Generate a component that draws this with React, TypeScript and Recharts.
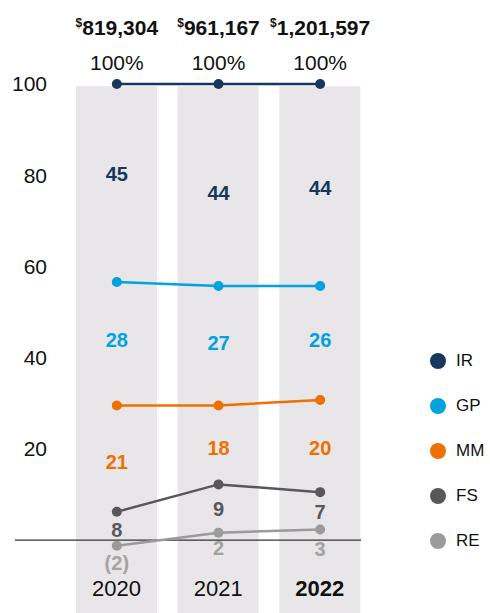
import React from 'react';
import { ComposedChart, Bar, Line, XAxis, YAxis, ReferenceLine, LabelList } from 'recharts';

// categories and totals
const years = ['2020', '2021', '2022'];
const totals = ['819,304', '961,167', '1,201,597'];
const totalShare = ['100%', '100%', '100%'];

// share of each segment (%), as printed
const irShare = [45, 44, 44];
const gpShare = [28, 27, 26];
const mmShare = [21, 18, 20];
const fsShare = [8, 9, 7];
const reShare = [-2, 2, 3];

// cumulative line levels as drawn
const irLine = [100, 100, 100];
const gpLine = [56.6, 55.7, 55.7];
const mmLine = [29.5, 29.5, 30.7];
const fsLine = [6.2, 12.2, 10.5];
const reLine = [-1.25, 1.6, 2.3];

// where each share label sits (chart units)
const irLabAt = [80.3, 76.1, 77.2];
const gpLabAt = [43.9, 43.3, 43.9];
const mmLabAt = [17.2, 20.1, 20.1];
const fsLabAt = [2.2, 6.9, 6.2];
const reLabAt = [-5.1, -1.75, -1.9];

const yTicks = [20, 40, 60, 80, 100];
const yMin = -16;

const FONT = '"Liberation Sans", Arial, sans-serif';

const series = [
  { name: 'IR', color: '#17375e', line: 'ir', lab: 'irLab', share: 'irShare', text: '#17375e' },
  { name: 'GP', color: '#00a3e0', line: 'gp', lab: 'gpLab', share: 'gpShare', text: '#00a3e0' },
  { name: 'MM', color: '#ed7000', line: 'mm', lab: 'mmLab', share: 'mmShare', text: '#ed7000' },
  { name: 'FS', color: '#58585b', line: 'fs', lab: 'fsLab', share: 'fsShare', text: '#58585b' },
  { name: 'RE', color: '#9b9b9b', line: 're', lab: 'reLab', share: 'reShare', text: '#a3a3a3' },
];

const data = years.map((year, i) => ({
  year,
  total: totals[i],
  pct: totalShare[i],
  band: [yMin, 99.5],
  ir: irLine[i], gp: gpLine[i], mm: mmLine[i], fs: fsLine[i], re: reLine[i],
  irLab: irLabAt[i], gpLab: gpLabAt[i], mmLab: mmLabAt[i], fsLab: fsLabAt[i], reLab: reLabAt[i],
  irShare: irShare[i], gpShare: gpShare[i], mmShare: mmShare[i], fsShare: fsShare[i], reShare: reShare[i],
}));

const ShareLabel = (color: string) => (props: any) => {
  const { x, y, value } = props;
  const txt = value < 0 ? `(${Math.abs(value)})` : `${value}`;
  return (
    <text x={x} y={y} textAnchor="middle" dominantBaseline="central"
      fill={color} fontFamily={FONT} fontSize={20} fontWeight={700}>
      {txt}
    </text>
  );
};

const TopLabel = (props: any) => {
  const { x, y, index } = props;
  return (
    <g fontFamily={FONT}>
      <text x={x} y={y - 22} textAnchor="middle" dominantBaseline="central" fill="#111" fontSize={21}>
        {data[index].pct}
      </text>
      <text x={x} y={y - 49} textAnchor="middle" fill="#111" fontWeight={700}>
        <tspan fontSize={12} dy={-8}>$</tspan>
        <tspan fontSize={21} dy={8}>{data[index].total}</tspan>
      </text>
    </g>
  );
};

const YearLabel = (props: any) => {
  const { x, y, width, height, index } = props;
  return (
    <text x={x + width / 2} y={y + height - 25} textAnchor="middle" dominantBaseline="central"
      fill="#111" fontFamily={FONT} fontSize={22} fontWeight={index === years.length - 1 ? 700 : 400}>
      {years[index]}
    </text>
  );
};

const LegendBox = () => (
  <div style={{ position: 'absolute', left: 430, top: 338, fontFamily: FONT }}>
    {series.map((s) => (
      <div key={s.name} style={{ display: 'flex', alignItems: 'center', height: 45 }}>
        <span style={{ width: 16, height: 16, borderRadius: 8, background: s.color, display: 'inline-block', marginRight: 10 }} />
        <span style={{ fontSize: 17, color: '#111' }}>{s.name}</span>
      </div>
    ))}
  </div>
);

export default function App() {
  return (
    <div style={{ position: 'absolute', left: 0, top: 0, width: 490, height: 613, background: '#fff' }}>
      <ComposedChart width={490} height={613} data={data} margin={{ top: 84, right: 119, bottom: 0, left: 0 }}>
        <XAxis dataKey="year" hide height={0} />
        <YAxis
          width={66}
          domain={[yMin, 100]}
          ticks={yTicks}
          axisLine={false}
          tickLine={false}
          tickMargin={13}
          tick={{ fill: '#111', fontSize: 21, fontFamily: FONT }}
        />
        <Bar dataKey="band" fill="#e8e6e8" barSize={81} isAnimationActive={false}>
          <LabelList dataKey="year" content={YearLabel} />
        </Bar>
        <ReferenceLine
          y={0}
          shape={(p: any) => (
            <line x1={p.x1 - 51} x2={p.x2 - 10} y1={p.y1} y2={p.y2} stroke="#333" strokeWidth={1.3} />
          )}
        />
        {series.map((s) => (
          <Line key={s.line} dataKey={s.line} stroke={s.color} strokeWidth={2.5}
            dot={{ r: 5, fill: s.color, stroke: s.color, strokeWidth: 0 }}
            activeDot={false} isAnimationActive={false} legendType="none">
            {s.line === 'ir' ? <LabelList dataKey="total" content={TopLabel} /> : null}
          </Line>
        ))}
        {series.map((s) => (
          <Line key={s.lab} dataKey={s.lab} stroke="none" dot={false} activeDot={false}
            isAnimationActive={false} legendType="none">
            <LabelList dataKey={s.share} content={ShareLabel(s.text)} />
          </Line>
        ))}
      </ComposedChart>
      <LegendBox />
    </div>
  );
}
